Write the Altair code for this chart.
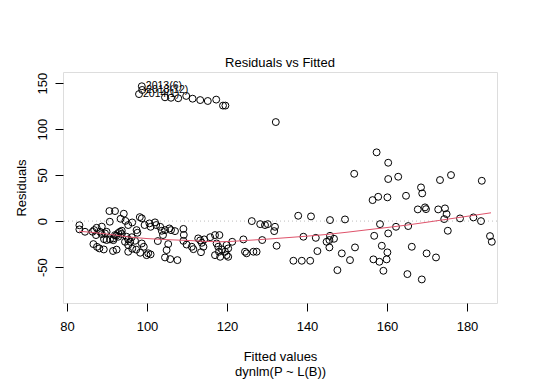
import altair as alt
import pandas as pd

# Fitted values and residuals
fitted = [
    83.1, 83.1, 84.5, 86.4, 86.8, 87.4, 88.7, 87.25, 88.25, 88.7,
    89.5, 89.9, 89.25, 89.9, 90.75, 91.6, 92.0, 92.8, 93.25, 93.7,
    90.6, 92.0, 90.7, 94.2, 93.4, 94.6, 96.3, 95.3, 98.2, 98.7,
    99.4, 92.8, 93.7, 91.6, 92.3, 94.5, 95.3, 94.9, 95.8, 95.3,
    96.2, 97.0, 98.7, 99.2, 97.4, 97.6, 86.6, 87.5, 88.1, 89.2,
    91.5, 92.4, 95.3, 96.3, 97.3, 98.3, 99.9, 100.3, 100.9, 100.6,
    100.9, 102.0, 102.3, 103.3, 103.7, 104.0, 104.5, 105.6, 106.0, 107.0,
    102.7, 104.9, 105.3, 104.5, 105.8, 107.6, 109.1, 109.2, 109.1, 109.9,
    111.2, 111.6, 112.8, 113.3, 113.7, 114.3, 114.1, 113.5, 115.8, 117.0,
    117.4, 117.8, 118.0, 118.7, 119.5, 119.9, 121.3, 117.0, 118.3, 118.1,
    119.9, 120.3, 120.3, 124.1, 124.5, 124.9, 126.6, 127.4, 126.2, 128.3,
    129.5, 130.2, 132.0, 131.8, 128.8, 132.4, 137.8, 141.0, 139.1, 142.2,
    136.6, 138.7, 140.8, 142.6, 145.6, 144.9, 145.75, 146.75, 145.6, 145.75,
    149.5, 147.6, 148.7, 150.75, 152.0, 151.8, 157.4, 160.3, 160.3, 162.8,
    156.4, 157.8, 160.1, 164.75, 158.25, 162.25, 165.3, 156.8, 160.3, 158.7,
    160.1, 159.9, 156.6, 158.1, 159.1, 165.1, 176.0, 173.25, 183.7, 168.5,
    168.8, 167.7, 169.5, 169.75, 172.8, 174.5, 174.9, 174.3, 178.25, 181.6,
    183.5, 175.2, 185.75, 186.2, 166.2, 169.9, 172.25, 168.7,
    104.5, 106.0, 107.8, 109.8, 111.4, 113.3, 115.2, 117.3, 119.0, 119.6,
    132.2,
]
resid = [
    -4.5, -9.0, -11.6, -11.6, -9.8, -7.3, -6.0, -15.2, -11.6, -14.1,
    -13.4, -11.6, -19.6, -20.6, -19.9, -18.8, -15.2, -17.0, -11.6, -10.5,
    10.9, 10.9, -0.7, 8.0, 2.5, 0.2, -1.5, -4.3, 4.3, 3.0,
    -4.3, -13.0, -14.0, -20.7, -16.0, -22.5, -20.0, -17.0, -22.5, -26.0,
    -17.5, -21.4, -24.3, -27.9, -9.8, -12.7, -25.0, -28.0, -29.7, -30.8,
    -32.5, -31.0, -33.3, -30.0, -31.0, -34.4, -37.0, -35.0, -36.2, -2.5,
    -6.2, -1.4, -4.3, -6.2, -10.5, -15.2, -9.8, -8.0, -9.8, -10.9,
    -21.7, -31.5, -25.0, -39.5, -41.3, -42.4, -8.5, -15.0, -21.5, -25.5,
    -27.9, -30.5, -18.8, -21.0, -23.6, -19.9, -27.9, -33.8, -17.5, -15.2,
    -24.3, -27.9, -33.3, -30.8, -33.3, -37.0, -22.5, -37.0, -38.8, -15.2,
    -26.0, -29.7, -38.8, -19.9, -33.3, -35.0, -33.3, -33.3, 0.0, -3.3,
    -4.3, -3.3, -6.2, -10.9, -20.6, -26.8, 5.8, 5.1, -17.0, -18.2,
    -43.1, -43.1, -43.1, -32.6, -20.6, -22.5, -16.0, -19.2, -28.6, 1.1,
    1.8, -53.3, -35.1, -42.4, -28.6, 51.4, 74.7, 63.4, 45.7, 48.2,
    22.8, 26.4, 25.8, 27.5, -3.3, -6.2, -5.4, -16.0, -13.4, -26.8,
    -34.0, -41.6, -41.6, -44.2, -54.0, -57.6, 50.0, 44.6, 43.8, 36.6,
    30.1, 12.7, 14.9, 13.0, 12.7, 13.8, 7.6, 2.2, 2.9, 4.0,
    0.0, -10.5, -16.3, -22.5, -27.9, -35.1, -39.5, -63.4,
    134.5, 134.0, 133.5, 136.0, 133.0, 131.5, 130.5, 132.0, 125.5, 125.5,
    107.6,
]

# The three labelled (largest) residuals
label_names = ["2013(6)", "2013(12)", "2014(1)"]
label_fitted = [98.7, 98.8, 98.0]
label_resid = [146.5, 142.5, 138.0]

# Lowess smooth
smooth_x = [83.0, 90, 95, 100, 110, 118, 125, 135, 145, 155, 165, 175, 186]
smooth_y = [-11, -14, -17, -19, -21, -22.5, -21, -18, -14.5, -9.5, -4.3, 2, 9]

x_ticks = [80, 100, 120, 140, 160, 180]
y_ticks = [-50, 0, 50, 100, 150]

pts = pd.DataFrame({"fitted": fitted + label_fitted, "resid": resid + label_resid})
labs = pd.DataFrame({"fitted": label_fitted, "resid": label_resid, "name": label_names})
smooth = pd.DataFrame({"fitted": smooth_x, "resid": smooth_y})
zero = pd.DataFrame({"resid": [0]})

FONT = "Liberation Sans"

xscale = alt.Scale(domain=[79, 187.5], nice=False, zero=False)
yscale = alt.Scale(domain=[-89, 162], nice=False, zero=False)

xaxis = alt.Axis(
    values=x_ticks, grid=False, domain=False, tickColor="black", tickSize=8,
    labelFont=FONT, labelFontSize=13, labelColor="black", labelPadding=9,
    title=["Fitted values", "dynlm(P ~ L(B))"], titleFont=FONT, titleFontSize=13,
    titleFontWeight="normal", titleColor="black", titleLineHeight=15, titlePadding=17,
    labelExpr="'' + datum.value",
)
yaxis = alt.Axis(
    values=y_ticks, grid=False, domain=False, tickColor="black", tickSize=8,
    labelFont=FONT, labelFontSize=13, labelColor="black", labelPadding=6,
    labelAngle=-90, labelAlign="center", labelBaseline="bottom",
    title="Residuals", titleFont=FONT, titleFontSize=13,
    titleFontWeight="normal", titleColor="black", titlePadding=8,
    labelExpr="'' + datum.value",
)

points = alt.Chart(pts).mark_point(
    shape="circle", filled=False, color="black", size=48, strokeWidth=1, opacity=1
).encode(
    x=alt.X("fitted:Q", scale=xscale, axis=xaxis),
    y=alt.Y("resid:Q", scale=yscale, axis=yaxis),
)

zero_line = alt.Chart(zero).mark_rule(
    color="#BEBEBE", strokeDash=[1, 3], strokeWidth=1
).encode(y=alt.Y("resid:Q", scale=yscale))

line = alt.Chart(smooth).mark_line(
    color="#DF536B", strokeWidth=1, interpolate="monotone"
).encode(
    x=alt.X("fitted:Q", scale=xscale),
    y=alt.Y("resid:Q", scale=yscale),
)

texts = alt.Chart(labs).mark_text(
    align="left", baseline="middle", dx=4, font=FONT, fontSize=10.5,
    fill="black", color="black", opacity=1
).encode(
    x=alt.X("fitted:Q", scale=xscale),
    y=alt.Y("resid:Q", scale=yscale),
    text="name:N",
)

chart = alt.layer(zero_line, points, line, texts).properties(
    width=434,
    height=231,
    title=alt.TitleParams(
        "Residuals vs Fitted", font=FONT, fontSize=13, fontWeight="normal",
        color="black", anchor="middle", frame="group", offset=2,
    ),
    padding={"left": 55, "top": 64, "right": 30, "bottom": 79},
    autosize=alt.AutoSizeParams(type="none"),
).configure_view(
    stroke="black", strokeWidth=1
).configure(background="white")

chart.save("out.html", embed_options={"renderer": "svg", "actions": False})
